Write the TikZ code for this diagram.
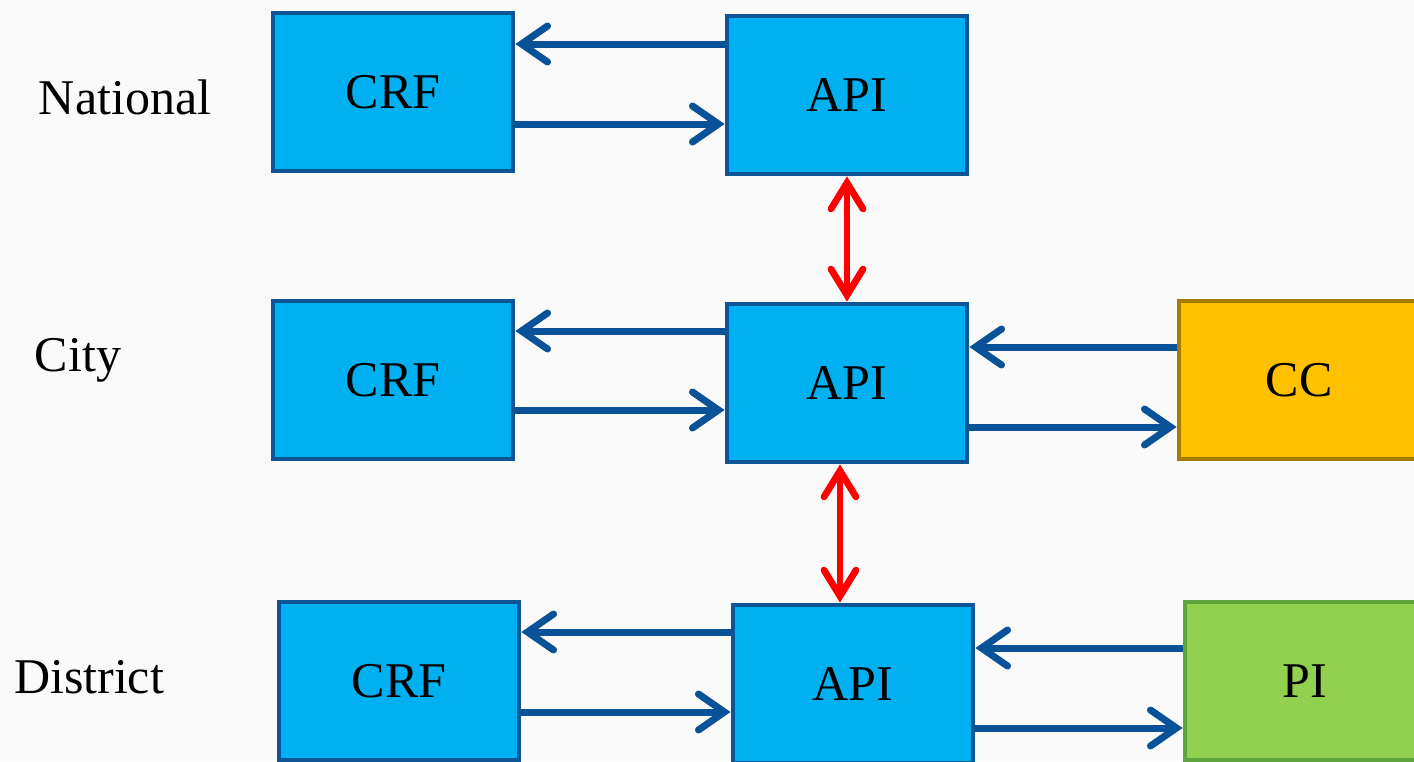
\documentclass[tikz,border=0pt]{standalone}
\usepackage{fontspec}
\setmainfont{Liberation Serif}
\usetikzlibrary{arrows.meta}
\definecolor{boxblue}{HTML}{00B0F0}
\definecolor{edgeblue}{HTML}{0E5596}
\definecolor{arrblue}{HTML}{0A5298}
\definecolor{ccfill}{HTML}{FFC000}
\definecolor{ccedge}{HTML}{A67C00}
\definecolor{pifill}{HTML}{92D050}
\definecolor{piedge}{HTML}{5EA43C}
\definecolor{bg}{HTML}{FAFAFA}
\tikzset{
  bx/.style={draw=edgeblue, fill=boxblue, line width=2.4pt, minimum width=120pt, minimum height=79pt, inner sep=0pt, font=\fontsize{25}{30}\selectfont},
  ccbox/.style={bx, draw=ccedge, fill=ccfill},
  pibox/.style={bx, draw=piedge, fill=pifill},
  lvl/.style={font=\fontsize{25}{30}\selectfont, inner sep=0pt},
  arr/.style={draw=arrblue, line width=3.5pt, -{Straight Barb[length=13pt, width=18pt, line cap=round]}},
  redarr/.style={draw=red, line width=3.4pt, {Straight Barb[length=13pt, width=16pt, line cap=round]}-{Straight Barb[length=13pt, width=16pt, line cap=round]}}
}
\begin{document}
\begin{tikzpicture}[x=0.5pt, y=-0.5pt]
\path[fill=bg] (0,0) rectangle (1414,761);
\useasboundingbox (0,0) rectangle (1414,761);
% level labels
\node[lvl] (lnat) at (125,97) {National};
\node[lvl] (lcity) at (78,360) {City};
\node[lvl] (ldist) at (89,677) {District};
% boxes
\node[bx] (ncrf) at (393,92) {CRF};
\node[bx] (napi) at (847,95) {API};
\node[bx] (ccrf) at (393,380) {CRF};
\node[bx] (capi) at (847,383) {API};
\node[ccbox] (cc) at (1299,380) {CC};
\node[bx] (dcrf) at (399,681) {CRF};
\node[bx] (dapi) at (853,684) {API};
\node[pibox] (pi) at (1305,681) {PI};
% national arrows
\draw[arr] (napi.west |- 0,44) -- (ncrf.east |- 0,44);
\draw[arr] (ncrf.east |- 0,124) -- (napi.west |- 0,124);
% city arrows
\draw[arr] (capi.west |- 0,331) -- (ccrf.east |- 0,331);
\draw[arr] (ccrf.east |- 0,410) -- (capi.west |- 0,410);
\draw[arr] (cc.west |- 0,347) -- (capi.east |- 0,347);
\draw[arr] (capi.east |- 0,427) -- (cc.west |- 0,427);
% district arrows
\draw[arr] (dapi.west |- 0,632) -- (dcrf.east |- 0,632);
\draw[arr] (dcrf.east |- 0,712) -- (dapi.west |- 0,712);
\draw[arr] (pi.west |- 0,648) -- (dapi.east |- 0,648);
\draw[arr] (dapi.east |- 0,728) -- (pi.west |- 0,728);
% vertical red arrows
\draw[redarr] (napi.south) -- (capi.north);
\draw[redarr] (840,0 |- capi.south) -- (840,0 |- dapi.north);
\end{tikzpicture}
\end{document}
